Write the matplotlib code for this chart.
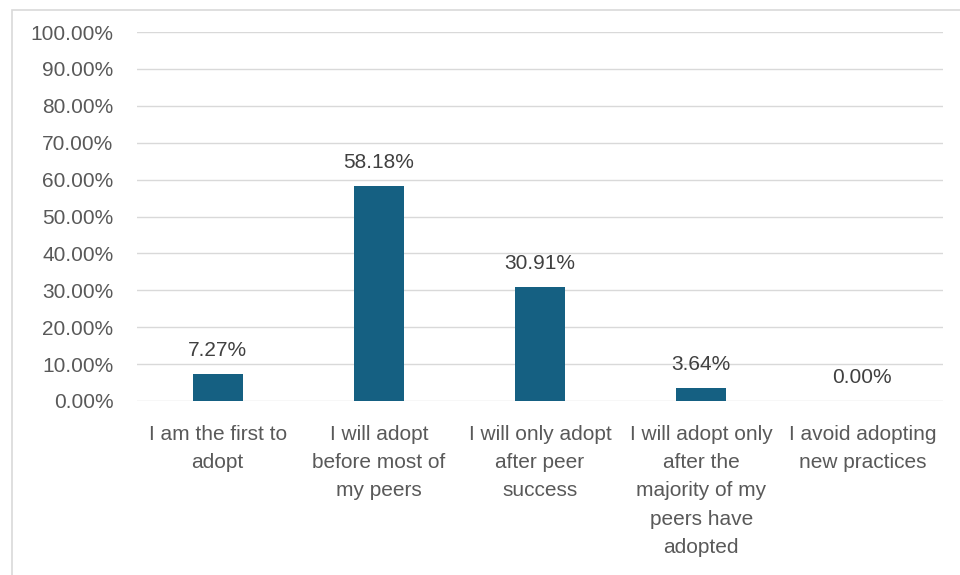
import numpy as np
import matplotlib.pyplot as plt
from matplotlib.patches import Rectangle

categories = ['I am the first to\nadopt',
              'I will adopt\nbefore most of\nmy peers',
              'I will only adopt\nafter peer\nsuccess',
              'I will adopt only\nafter the\nmajority of my\npeers have\nadopted',
              'I avoid adopting\nnew practices']
shares = [7.27, 58.18, 30.91, 3.64, 0.00]
y_ticks = [0, 10, 20, 30, 40, 50, 60, 70, 80, 90, 100]

plt.rcParams['font.family'] = ['Liberation Sans', 'DejaVu Sans']

fig = plt.figure(figsize=(9.6, 5.75), dpi=100)
# chart frame (light border like the office chart box)
fig.patches.append(Rectangle((12/960, -0.05), 1.2, 1 - 10/575 + 0.05,
                             transform=fig.transFigure, fill=False,
                             edgecolor='#d9d9d9', linewidth=1.2))

ax = fig.add_axes([137/960, 1 - 401/575, 806/960, 369/575])
x = np.arange(len(categories))
bars = ax.bar(x, shares, width=0.31, color='#156082', zorder=3)

for xi, v in zip(x, shares):
    ax.annotate(f'{v:.2f}%', (xi, v), xytext=(0, 10), textcoords='offset points',
                ha='center', va='bottom', fontsize=15, color='#404040')

ax.set_xlim(-0.5, len(categories) - 0.5)
ax.set_ylim(0, 100)
ax.set_yticks(y_ticks)
ax.set_yticklabels([f'{t:.2f}%' for t in y_ticks])
ax.set_xticks(x)
ax.set_xticklabels(categories, linespacing=1.62)

ax.grid(axis='y', color='#d9d9d9', linewidth=1.0, zorder=0)
for s in ax.spines.values():
    s.set_visible(False)
ax.tick_params(axis='both', length=0, labelsize=15, colors='#595959')
ax.tick_params(axis='y', pad=17)
ax.tick_params(axis='x', pad=17)

fig.savefig('out.png', dpi=100)
